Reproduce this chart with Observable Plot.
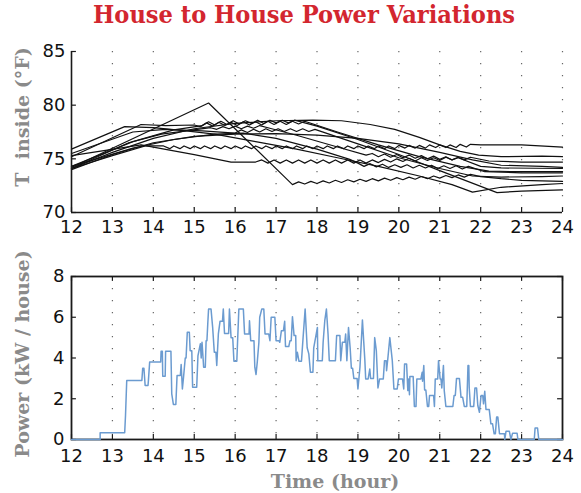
<!DOCTYPE html>
<html><head><meta charset="utf-8">
<script src="https://cdn.jsdelivr.net/npm/d3@7"></script>
<script src="https://cdn.jsdelivr.net/npm/@observablehq/plot@0.6"></script>
<style>
body{margin:0;background:#fff;}
#wrap{position:relative;width:581px;height:493px;overflow:hidden;background:#fff;}
#wrap svg{position:absolute;left:0;}
.title{position:absolute;left:304px;top:1px;transform-origin:0 0;white-space:nowrap;font:bold 24px/28px "DejaVu Serif";color:#d3262f;}
.lab{position:absolute;font:bold 19px "DejaVu Serif";color:#8a8a8a;white-space:pre;}
.rot{transform:translate(-50%,-50%) rotate(-90deg);}
.hor{transform:translate(-50%,-50%);}
</style></head>
<body>
<div id="wrap">
  <div class="title" id="title">House to House Power Variations</div>
  <div class="lab rot" style="left:22px;top:117px;">T  inside (°F)</div>
  <div class="lab rot" style="left:22px;top:354px;">Power (kW / house)</div>
  <div class="lab hor" style="left:335px;top:481px;">Time (hour)</div>
</div>
<script>
const hourTicks = [12,13,14,15,16,17,18,19,20,21,22,23,24];
const gridTop = [13,14,15,16,17,18,19,20,21,22,23,24];
const gridBot = [13,14,15,16,17,18,19,20,21,22,23];
const tempTicks = [70,75,80,85];
const powerTicks = [0,2,4,6,8];

const house1 = [[12,74.2],[15.35,80.2],[17.4,72.6],[17.55,72.85],[17.7,72.65],[17.85,72.9],[18.0,72.7],[18.15,72.95],[18.3,72.75],[18.45,73.0],[18.6,72.8],[18.75,73.05],[18.9,72.85],[19.05,73.1],[19.2,72.9],[19.35,73.15],[19.5,72.95],[19.65,73.2],[19.8,73.0],[19.95,73.25],[20.1,73.05],[20.25,73.3],[20.4,73.1],[20.55,73.35],[20.7,73.15],[20.85,73.4],[21.0,73.2],[21.15,73.45],[21.3,73.25],[21.45,73.5],[21.6,73.3],[21.75,73.55],[22.0,73.35],[22.5,73.15],[23.0,73.0],[24.0,72.9]];
const house2 = [[12,74.1],[13,75.3],[13.8,76.2],[14.25,76.2],[14.4,75.95],[14.5,76.2],[14.65,75.95],[14.75,76.2],[14.9,75.95],[15.0,76.2],[15.15,75.95],[15.25,76.2],[15.4,75.95],[15.5,76.2],[15.65,75.95],[15.75,76.2],[15.9,75.95],[16.0,76.2],[16.15,75.95],[16.25,76.2],[16.4,75.95],[16.5,76.2],[16.65,75.95],[16.75,76.2],[16.9,75.95],[17.0,76.2],[17.15,75.95],[17.25,76.2],[17.4,75.95],[17.5,76.2],[17.65,75.95],[17.75,76.2],[17.9,75.95],[18.0,76.2],[18.15,75.95],[18.25,76.2],[18.4,75.95],[18.5,76.2],[18.65,75.95],[18.75,76.2],[18.9,75.95],[19.0,76.2],[19.15,75.95],[19.25,76.2],[19.4,75.95],[19.5,76.2],[19.65,75.95],[19.75,76.2],[19.9,75.95],[20.0,76.25],[20.15,76.0],[20.25,76.25],[20.4,76.0],[20.5,76.25],[20.65,76.0],[20.75,76.3],[20.9,76.05],[21.0,76.3],[21.15,76.05],[21.25,76.3],[21.4,76.05],[21.5,76.35],[21.65,76.1],[21.75,76.35],[22.0,76.3],[23.0,76.3],[24,76.1]];
const house3 = [[12,74.1],[13,75.6],[14,76.9],[15,77.8],[16,78.3],[17,78.55],[17.9,78.6],[18.6,78.55],[19.3,78.2],[19.9,77.75],[20.5,77.0],[21.0,76.3],[21.5,75.7],[21.95,75.35],[22.5,75.2],[23.5,75.25],[24,75.2]];
const house4 = [[12,75.2],[13.7,78.2],[14.3,78.1],[15.0,78.15],[15.15,78.0],[15.3,78.35],[15.45,78.05],[15.6,78.4],[15.75,78.1],[15.9,78.4],[16.05,78.1],[16.2,78.45],[16.35,78.15],[16.5,78.45],[16.65,78.15],[16.8,78.5],[16.95,78.2],[17.1,78.5],[17.25,78.2],[17.4,78.5],[17.55,78.25],[17.7,78.5],[18.5,77.5],[19.5,76.3],[20.5,75.2],[21.5,74.3],[22.2,73.85],[23,73.8],[24,73.8]];
const house5 = [[12,74.3],[13.5,76.6],[14.5,77.7],[15.2,78.1],[15.35,78.45],[15.5,78.15],[15.65,78.5],[15.8,78.2],[15.95,78.55],[16.1,78.25],[16.25,78.55],[16.4,78.3],[16.55,78.6],[16.7,78.3],[16.85,78.6],[17.0,78.35],[17.15,78.6],[17.3,78.35],[17.45,78.6],[18,78.05],[19,76.8],[20,75.4],[21,73.9],[22.4,71.85],[23,72.0],[24,72.1]];
const house6 = [[12,75.9],[13.3,78.0],[14,77.9],[14.8,77.6],[15.5,77.3],[16.5,76.6],[17.5,75.9],[18.5,75.1],[19.5,74.3],[20.5,73.4],[21.3,72.6],[21.8,71.9],[22.5,72.35],[23.5,72.6],[24,72.7]];
const house7 = [[12,75.3],[13.7,76.3],[15.0,75.4],[15.9,74.7],[16.5,74.7],[16.65,74.9],[16.8,74.6],[16.95,74.9],[17.1,74.6],[17.25,74.9],[17.4,74.6],[17.55,74.9],[17.7,74.6],[17.85,74.9],[18.0,74.6],[18.15,74.9],[18.3,74.6],[18.45,74.9],[18.6,74.6],[18.75,74.9],[18.9,74.6],[19.05,74.9],[19.2,74.6],[19.35,74.9],[19.5,74.65],[19.65,74.95],[19.8,74.7],[19.95,75.0],[20.1,74.75],[20.25,75.05],[20.4,74.8],[20.55,75.1],[20.7,74.85],[20.85,75.1],[21.0,74.85],[21.15,75.15],[21.3,74.9],[21.45,75.15],[21.6,74.9],[21.75,75.15],[22.2,74.8],[23,74.7],[24,74.7]];
const house8 = [[12,74.0],[13,75.4],[14,76.5],[15,77.1],[16,77.3],[17,77.35],[18,77.2],[19,76.9],[20,76.4],[21,75.6],[21.8,74.9],[22.5,74.4],[23.5,74.3],[24,74.2]];
const house9 = [[12,74.1],[13.4,76.5],[14.2,77.3],[15.4,77.9],[15.55,77.75],[15.7,78.0],[15.85,77.8],[16.0,78.05],[16.15,77.8],[16.3,78.05],[16.45,77.85],[16.6,78.1],[16.8,77.9],[17.5,77.2],[18.5,76.1],[19.2,75.35],[19.35,75.5],[19.5,75.2],[19.65,75.45],[19.8,75.15],[19.95,75.4],[20.1,75.1],[20.25,75.35],[20.4,75.05],[20.55,75.3],[20.7,75.0],[20.85,75.25],[21.0,74.95],[21.15,75.2],[21.3,74.9],[21.45,75.1],[22.0,74.3],[22.5,74.15],[24,74.1]];
const house10 = [[12,74.3],[13.5,76.0],[14.5,76.8],[15.5,77.3],[16.2,77.4],[17,76.9],[18,75.9],[18.8,74.95],[19.0,74.6],[19.15,74.3],[19.3,74.55],[19.45,74.25],[19.6,74.5],[19.75,74.2],[19.9,74.45],[20.05,74.2],[20.2,74.45],[20.35,74.15],[20.5,74.4],[20.65,74.15],[20.8,74.4],[20.95,74.1],[21.1,74.35],[21.25,74.1],[21.4,74.35],[21.55,74.05],[21.7,74.3],[22.1,73.8],[23,73.7],[24,73.7]];
const house11 = [[12,75.5],[13.5,77.5],[14.3,77.75],[15.2,77.6],[16,77.4],[16.15,77.7],[16.3,77.45],[16.45,77.75],[16.6,77.5],[16.75,77.8],[16.9,77.55],[17.05,77.8],[17.2,77.55],[17.35,77.8],[17.5,77.55],[17.65,77.8],[17.8,77.55],[17.95,77.75],[19,76.4],[20,75.1],[21,74.1],[21.8,73.4],[22.5,73.3],[23.5,73.35],[24,73.4]];
const houses = [house1,house2,house3,house4,house5,house6,house7,house8,house9,house10,house11];

const powerSteps = [[12,0],[12.70,0],[12.70,0.33],[13.30,0.33],[13.32,1.18],[13.35,2.9],[13.72,2.9],[13.74,3.5],[13.77,3.5],[13.80,2.65],[13.87,2.65],[13.88,2.9],[13.91,3.8],[14.18,3.8],[14.19,4.33],[14.22,4.33],[14.23,3.1],[14.29,3.1],[14.30,4.33],[14.43,4.33],[14.45,2.24],[14.49,1.72],[14.55,1.72],[14.58,3.14],[14.66,3.14],[14.68,3.68],[14.71,2.48],[14.74,3.1],[14.78,4.0],[14.80,4.0],[14.83,5.26],[14.88,5.26],[14.90,4.36],[14.94,4.36],[14.96,2.56],[15.06,2.56],[15.09,4.1],[15.15,4.7],[15.17,4.0],[15.19,4.77],[15.23,3.55],[15.27,3.55],[15.29,4.85],[15.31,4.85],[15.33,5.67],[15.35,6.4],[15.41,6.4],[15.45,5.5],[15.49,4.28],[15.53,4.28],[15.55,3.63],[15.59,5.2],[15.63,5.8],[15.69,5.8],[15.71,6.4],[15.74,5.2],[15.84,5.2],[15.86,6.4],[15.90,5.0],[15.94,5.0],[15.97,3.84],[16.04,3.84],[16.09,6.4],[16.20,6.4],[16.23,5.18],[16.34,5.18],[16.35,5.83],[16.38,4.85],[16.46,4.85],[16.48,3.55],[16.51,3.19],[16.54,3.8],[16.58,4.77],[16.60,6.0],[16.65,6.4],[16.70,6.4],[16.73,5.18],[16.82,5.18],[16.85,4.85],[16.88,6.0],[16.97,6.0],[17.00,4.85],[17.07,4.85],[17.09,4.77],[17.13,5.34],[17.18,5.34],[17.21,5.8],[17.23,4.56],[17.31,4.56],[17.34,4.85],[17.37,4.85],[17.40,6.03],[17.44,5.1],[17.48,5.1],[17.49,3.87],[17.52,4.28],[17.56,3.84],[17.62,3.84],[17.66,5.0],[17.71,6.4],[17.76,4.5],[17.80,4.2],[17.84,3.3],[17.90,3.3],[17.92,4.5],[18.01,5.5],[18.02,3.87],[18.13,3.87],[18.15,4.77],[18.19,5.83],[18.23,6.4],[18.27,5.18],[18.30,3.87],[18.45,3.87],[18.48,5.1],[18.56,5.1],[18.58,3.87],[18.62,4.77],[18.68,4.77],[18.70,5.18],[18.73,3.87],[18.77,5.5],[18.81,4.5],[18.84,3.5],[18.87,3.5],[18.90,3.0],[18.98,3.0],[19.00,2.48],[19.05,3.55],[19.11,5.87],[19.17,3.87],[19.19,2.97],[19.25,2.97],[19.29,3.46],[19.31,3.0],[19.38,3.0],[19.41,5.0],[19.45,4.36],[19.49,2.53],[19.53,2.97],[19.62,2.97],[19.65,3.87],[19.69,3.87],[19.70,3.38],[19.73,3.95],[19.78,5.0],[19.84,3.87],[19.88,2.48],[19.96,2.48],[19.99,2.97],[20.09,2.97],[20.12,2.48],[20.14,3.7],[20.19,3.7],[20.22,2.4],[20.24,2.97],[20.26,2.2],[20.27,3.09],[20.35,3.09],[20.38,1.62],[20.42,1.62],[20.44,2.97],[20.54,2.97],[20.57,3.3],[20.58,2.86],[20.61,3.63],[20.63,2.43],[20.66,2.43],[20.70,1.62],[20.73,1.62],[20.75,2.16],[20.85,2.16],[20.87,1.62],[20.89,2.97],[20.95,2.97],[20.97,3.87],[21.01,2.97],[21.03,2.97],[21.05,2.53],[21.09,3.63],[21.11,2.4],[21.15,1.62],[21.32,1.62],[21.35,2.16],[21.38,2.16],[21.41,3.0],[21.48,3.0],[21.52,2.07],[21.56,2.07],[21.60,1.62],[21.66,1.62],[21.69,3.63],[21.71,3.63],[21.72,2.56],[21.75,1.62],[21.83,1.62],[21.86,2.53],[21.90,2.53],[21.93,1.67],[21.97,1.34],[22.01,2.16],[22.05,2.16],[22.07,1.75],[22.10,2.37],[22.13,1.47],[22.21,1.47],[22.25,0.77],[22.29,0.77],[22.33,0.28],[22.36,0.28],[22.39,1.1],[22.42,1.1],[22.46,0.28],[22.58,0.28],[22.59,0],[22.62,0.41],[22.70,0.41],[22.74,0],[22.78,0.31],[22.89,0.31],[22.91,0],[23.31,0],[23.33,0.56],[23.39,0.56],[23.42,0],[24,0]];

const tempRows = houses.flatMap((pts, i) => pts.map(([h, t]) => ({house: i, h, t})));
const powerRows = powerSteps.map(([h, kw]) => ({h, kw}));

const axisStyle = {fontFamily: "DejaVu Sans, sans-serif", fontSize: "18px", color: "#111", background: "transparent", overflow: "visible"};
const ink = "#1a1a1a";

const topChart = Plot.plot({
  width: 581, height: 240, marginLeft: 71, marginRight: 19, marginTop: 51, marginBottom: 28,
  style: axisStyle,
  x: {domain: [12, 24], label: null},
  y: {domain: [70, 85], label: null},
  marks: [
    Plot.ruleX(gridTop, {stroke: "#666", strokeWidth: 1.2, strokeDasharray: "1.2,10.8"}),
    Plot.line(tempRows, {x: "h", y: "t", z: "house", stroke: "#111", strokeWidth: 1.2}),
    Plot.ruleX([12], {stroke: ink, strokeWidth: 1.6}),
    Plot.ruleY([70], {stroke: ink, strokeWidth: 1.6}),
    Plot.ruleX(hourTicks, {x: d => d, y1: 70, y2: 70.45, stroke: ink, strokeWidth: 1.2}),
    Plot.ruleY(tempTicks, {y: d => d, x1: 12, x2: 12.12, stroke: ink, strokeWidth: 1.2}),
    Plot.axisX({ticks: hourTicks, tickSize: 0, tickPadding: 8, label: null, tickFormat: d => d}),
    Plot.axisY({ticks: tempTicks, tickSize: 0, tickPadding: 6, label: null, tickFormat: d => d})
  ]
});
topChart.style.top = "0px";

const botChart = Plot.plot({
  width: 581, height: 253, marginLeft: 71, marginRight: 19, marginTop: 36, marginBottom: 54,
  style: axisStyle,
  x: {domain: [12, 24], label: null},
  y: {domain: [0, 8], label: null},
  marks: [
    Plot.ruleX(gridBot, {stroke: "#666", strokeWidth: 1.2, strokeDasharray: "1.2,10.8"}),
    Plot.frame({stroke: ink, strokeWidth: 1.8}),
    Plot.ruleX(hourTicks, {x: d => d, y1: 0, y2: 0.24, stroke: ink, strokeWidth: 1.2}),
    Plot.ruleX(hourTicks, {x: d => d, y1: 8, y2: 7.76, stroke: ink, strokeWidth: 1.2}),
    Plot.ruleY(powerTicks, {y: d => d, x1: 12, x2: 12.12, stroke: ink, strokeWidth: 1.2}),
    Plot.ruleY(powerTicks, {y: d => d, x1: 24, x2: 23.88, stroke: ink, strokeWidth: 1.2}),
    Plot.line(powerRows, {x: "h", y: "kw", stroke: "#6b9bd0", strokeWidth: 1.5}),
    Plot.axisX({ticks: hourTicks, tickSize: 0, tickPadding: 10, label: null, tickFormat: d => d}),
    Plot.axisY({ticks: powerTicks, tickSize: 0, tickPadding: 7, label: null, tickFormat: d => d})
  ]
});
botChart.style.top = "240px";

const wrap = document.getElementById("wrap");
wrap.appendChild(topChart);
wrap.appendChild(botChart);

// fit the title to the reference's width (about 422px), centred at x = 304
const title = document.getElementById("title");
const w = title.getBoundingClientRect().width;
const k = 422 / w;
title.style.transform = `translateX(${-211}px) scaleX(${k})`;
</script>
</body></html>
